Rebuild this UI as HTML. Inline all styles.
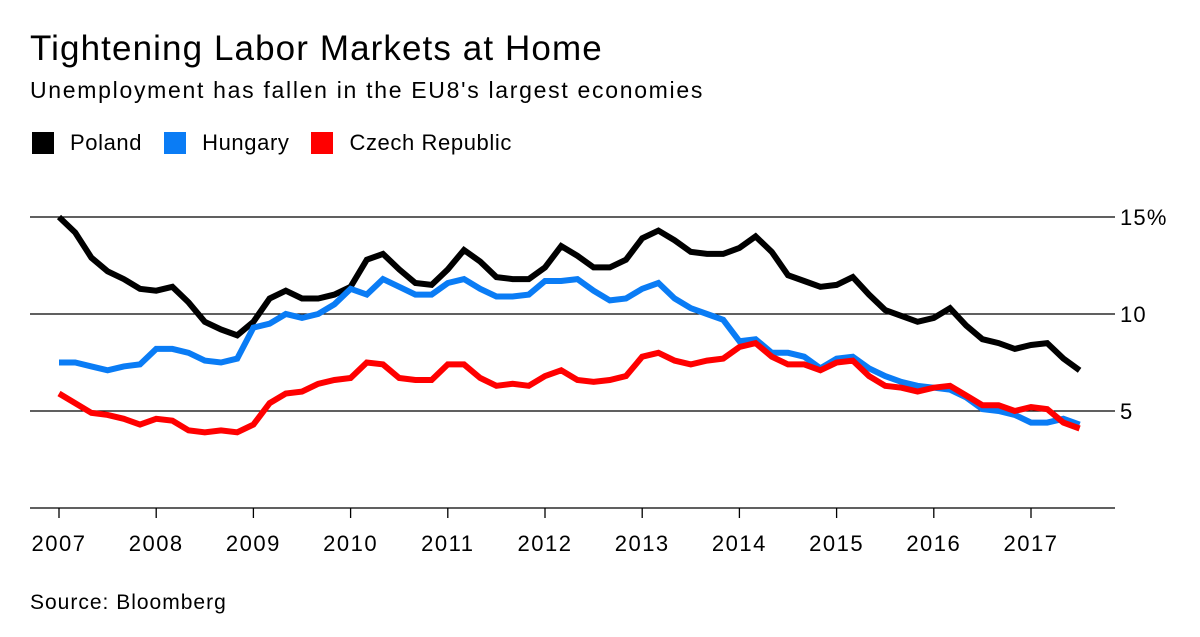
<!DOCTYPE html>
<html><head><meta charset="utf-8"><style>
body{margin:0;background:#fff;font-family:"Liberation Sans",sans-serif;}
#wrap{position:relative;width:1200px;height:637px;overflow:hidden}
.t{position:absolute;color:#000;white-space:nowrap}
.sw{display:inline-block;width:22px;height:22px;vertical-align:-4px;margin-right:16px}
</style></head><body>
<div id="wrap">
<div class="t" style="left:30px;top:29px;font-size:35px;letter-spacing:1.1px">Tightening Labor Markets at Home</div>
<div class="t" style="left:30px;top:77px;font-size:23px;letter-spacing:1.7px">Unemployment has fallen in the EU8's largest economies</div>
<div class="t" style="left:32px;top:130px;font-size:22px;letter-spacing:0.6px">
<span><span class="sw" style="background:#000"></span>Poland</span><span style="margin-left:22px"><span class="sw" style="background:#0a7cf5"></span>Hungary</span><span style="margin-left:22px"><span class="sw" style="background:#f00"></span>Czech Republic</span></div>
<svg id="c" width="1200" height="637" style="position:absolute;left:0;top:0"></svg>
<div class="t" style="left:30px;top:591px;font-size:21px;letter-spacing:1px">Source: Bloomberg</div>
</div>
<script>
const years=[2007,2008,2009,2010,2011,2012,2013,2014,2015,2016,2017];
const yTicks=[5,10,15];
const yTickLabels=["5","10","15%"];
const poland=[15.0,14.2,12.9,12.2,11.8,11.3,11.2,11.4,10.6,9.6,9.2,8.9,9.6,10.8,11.2,10.8,10.8,11.0,11.4,12.8,13.1,12.3,11.6,11.5,12.3,13.3,12.7,11.9,11.8,11.8,12.4,13.5,13.0,12.4,12.4,12.8,13.9,14.3,13.8,13.2,13.1,13.1,13.4,14.0,13.2,12.0,11.7,11.4,11.5,11.9,11.0,10.2,9.9,9.6,9.8,10.3,9.4,8.7,8.5,8.2,8.4,8.5,7.7,7.1];
const hungary=[7.5,7.5,7.3,7.1,7.3,7.4,8.2,8.2,8.0,7.6,7.5,7.7,9.3,9.5,10.0,9.8,10.0,10.5,11.3,11.0,11.8,11.4,11.0,11.0,11.6,11.8,11.3,10.9,10.9,11.0,11.7,11.7,11.8,11.2,10.7,10.8,11.3,11.6,10.8,10.3,10.0,9.7,8.6,8.7,8.0,8.0,7.8,7.2,7.7,7.8,7.2,6.8,6.5,6.3,6.2,6.1,5.7,5.1,5.0,4.8,4.4,4.4,4.6,4.3];
const czech=[5.9,5.4,4.9,4.8,4.6,4.3,4.6,4.5,4.0,3.9,4.0,3.9,4.3,5.4,5.9,6.0,6.4,6.6,6.7,7.5,7.4,6.7,6.6,6.6,7.4,7.4,6.7,6.3,6.4,6.3,6.8,7.1,6.6,6.5,6.6,6.8,7.8,8.0,7.6,7.4,7.6,7.7,8.3,8.5,7.8,7.4,7.4,7.1,7.5,7.6,6.8,6.3,6.2,6.0,6.2,6.3,5.8,5.3,5.3,5.0,5.2,5.1,4.4,4.1];
const NS='http://www.w3.org/2000/svg';
const svg=document.getElementById('c');
const x=t=>59+(t-2007)*97.2;
const y=v=>508-v*19.4;
function mk(tag,attrs){const e=document.createElementNS(NS,tag);for(const k in attrs)e.setAttribute(k,attrs[k]);svg.appendChild(e);return e;}
yTicks.forEach((v,i)=>{
  const l=mk('line',{x1:30,x2:1115,y1:y(v),y2:y(v),stroke:'#000','stroke-width':1.3});
  
  
  const t=mk('text',{x:1120,y:y(v)+8,'font-size':22,'letter-spacing':1.2,'font-family':'Liberation Sans, sans-serif'});
  t.textContent=yTickLabels[i];
  
  
});
const ax=mk('line',{x1:30,x2:1115,y1:508,y2:508,stroke:'#000','stroke-width':1.3});


years.forEach(yr=>{
  const tk=mk('line',{x1:x(yr),x2:x(yr),y1:508,y2:518,stroke:'#000','stroke-width':1.3});
  
  
  const t=mk('text',{x:x(yr),y:551,'font-size':22,'letter-spacing':1.5,'text-anchor':'middle','font-family':'Liberation Sans, sans-serif'});
  t.textContent=yr;
  
  
});
function line(arr,color,name){
  const d=arr.map((v,i)=>(i?'L':'M')+x(2007+i/6).toFixed(1)+','+y(v).toFixed(1)).join('');
  const p=mk('path',{d:d,fill:'none',stroke:color,'stroke-width':6,'stroke-linejoin':'miter'});
  
  
}
line(poland,'#000','line-poland');
line(hungary,'#0a7cf5','line-hungary');
line(czech,'#f00','line-czech-republic');
</script>
</body></html>
